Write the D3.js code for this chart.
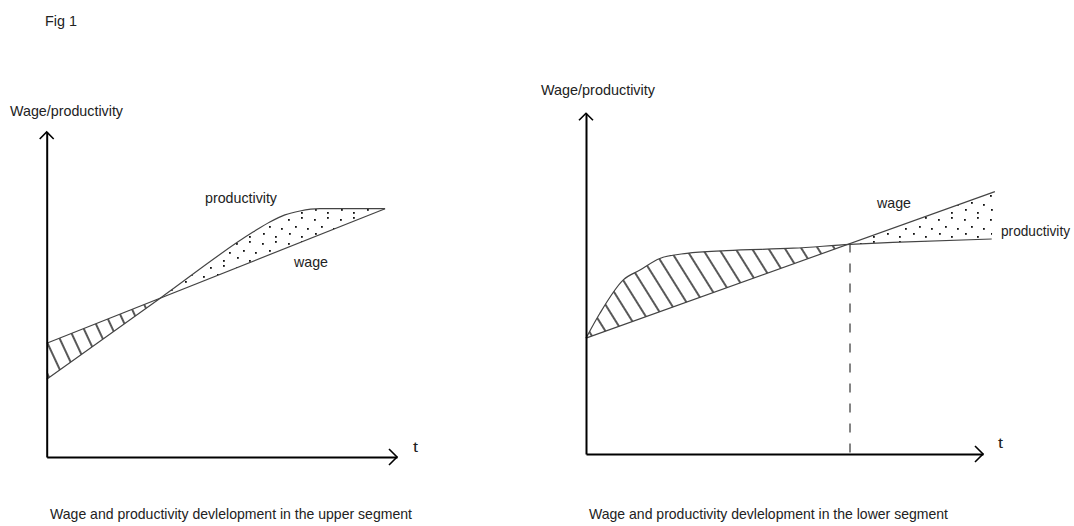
<!DOCTYPE html>
<html>
<head>
<meta charset="utf-8">
<script src="https://cdn.jsdelivr.net/npm/d3@7"></script>
<style>
  body { margin: 0; background: #fff; }
  text { font-family: "Liberation Sans", Arial, sans-serif; fill: #222; }
</style>
</head>
<body>
<div id="fig"></div>
<script>
// values (t and level on a 0..100 scale for each panel)
var upperWageT = [0, 96.6]
var upperWage = [35.0, 76.4]
var upperProdT = [0, 32.3, 58.9, 63.7, 68.0, 72.3, 78.0, 96.6]
var upperProd = [23.9, 48.8, 69.2, 72.3, 74.5, 75.7, 76.4, 76.4]
var upperCross = 32.3

var lowerWageT = [0, 103.0]
var lowerWage = [34.0, 77.0]
var lowerProdT = [0, 3.5, 9.4, 13.6, 18.6, 25.4, 35.4, 52.2, 66.5, 77.3, 102.2]
var lowerProd = [34.0, 41.3, 51.1, 54.0, 57.4, 58.9, 59.7, 60.4, 61.5, 62.1, 63.1]
var lowerCross = 66.5

var svg = d3.select("#fig").append("svg")
  .attr("width", 1074)
  .attr("height", 526)

var defs = svg.append("defs")

// hatch patterns
function hatch(id, angle, gap) {
  var p = defs.append("pattern")
    .attr("id", id)
    .attr("patternUnits", "userSpaceOnUse")
    .attr("width", gap).attr("height", gap)
    .attr("patternTransform", "rotate(" + angle + ")")
  p.append("line")
    .attr("x1", 2).attr("y1", 0).attr("x2", 2).attr("y2", gap)
    .attr("stroke", "#111").attr("stroke-width", 1.4)
}
hatch("hatchL", -25, 13)
hatch("hatchR", -32, 14)

var dots = defs.append("pattern")
  .attr("id", "dots")
  .attr("patternUnits", "userSpaceOnUse")
  .attr("width", 26).attr("height", 24)
var dotPos = [[2, 3], [15, 1], [9, 10], [21, 12], [3, 17], [15, 20]]
dots.selectAll("rect").data(dotPos).enter().append("rect")
  .attr("x", function (d) { return d[0] })
  .attr("y", function (d) { return d[1] })
  .attr("width", 1.8).attr("height", 1.8)
  .attr("fill", "#111")

function zip(ts, vs) {
  return ts.map(function (t, i) { return [t, vs[i]] })
}

function panel(cfg) {
  var x = d3.scaleLinear().domain([0, 100]).range(cfg.xr)
  var y = d3.scaleLinear().domain([0, 100]).range(cfg.yr)
  var g = svg.append("g")

  var wage = zip(cfg.wageT, cfg.wage)
  var prod = zip(cfg.prodT, cfg.prod)

  var wageLine = d3.line().x(function (d) { return x(d[0]) }).y(function (d) { return y(d[1]) })
  var prodLine = d3.line().x(function (d) { return x(d[0]) }).y(function (d) { return y(d[1]) })
    .curve(d3.curveMonotoneX)

  // closed shape: wage forward, productivity back
  var shape = wageLine(wage) + "L" + prodLine(prod.slice().reverse()).slice(1) + "Z"

  var cx = x(cfg.cross)
  defs.append("clipPath").attr("id", cfg.id + "a")
    .append("rect").attr("x", 0).attr("y", 0).attr("width", cx).attr("height", 526)
  defs.append("clipPath").attr("id", cfg.id + "b")
    .append("rect").attr("x", cx).attr("y", 0).attr("width", 1074 - cx).attr("height", 526)

  g.append("path").attr("d", shape)
    .attr("fill", "url(#" + cfg.hatch + ")").attr("fill-rule", "evenodd")
    .attr("clip-path", "url(#" + cfg.id + "a)")
  g.append("path").attr("d", shape)
    .attr("fill", "url(#dots)").attr("fill-rule", "evenodd")
    .attr("clip-path", "url(#" + cfg.id + "b)")

  if (cfg.dashed) {
    var yc = y(d3.interpolateNumber(cfg.wage[0], cfg.wage[1])(cfg.cross / cfg.wageT[1]))
    g.append("line")
      .attr("x1", cx).attr("x2", cx)
      .attr("y1", yc).attr("y2", y(0))
      .attr("stroke", "#444").attr("stroke-width", 1.3)
      .attr("stroke-dasharray", "9,11")
  }

  g.append("path").attr("d", wageLine(wage))
    .attr("fill", "none").attr("stroke", "#444").attr("stroke-width", 1.2)
  g.append("path").attr("d", prodLine(prod))
    .attr("fill", "none").attr("stroke", "#444").attr("stroke-width", 1.2)

  // axes without ticks
  g.append("g").attr("transform", "translate(0," + y(0) + ")")
    .call(d3.axisBottom(x).ticks(0).tickSizeOuter(0))
    .select(".domain").attr("stroke", "#000").attr("stroke-width", 2)
  g.append("g").attr("transform", "translate(" + x(0) + ",0)")
    .call(d3.axisLeft(y).ticks(0).tickSizeOuter(0))
    .select(".domain").attr("stroke", "#000").attr("stroke-width", 2)

  var ax = x(100), ay = y(0), tx = x(0), ty = y(100)
  g.append("path")
    .attr("d", "M" + (ax - 8) + "," + (ay - 8) + "L" + ax + "," + ay + "L" + (ax - 8) + "," + (ay + 8))
    .attr("fill", "none").attr("stroke", "#000").attr("stroke-width", 1.6)
  g.append("path")
    .attr("d", "M" + (tx - 7) + "," + (ty + 7) + "L" + tx + "," + ty + "L" + (tx + 7) + "," + (ty + 7))
    .attr("fill", "none").attr("stroke", "#000").attr("stroke-width", 1.6)

  cfg.labels.forEach(function (l) {
    g.append("text")
      .attr("x", l.x).attr("y", l.y)
      .attr("font-size", l.fs || 15)
      .attr("textLength", l.w)
      .attr("lengthAdjust", "spacingAndGlyphs")
      .text(l.text)
  })
}

svg.append("text").attr("x", 45).attr("y", 26).attr("font-size", 15)
  .attr("textLength", 32).attr("lengthAdjust", "spacingAndGlyphs").text("Fig 1")

panel({
  id: "up", hatch: "hatchL",
  xr: [46.7, 397], yr: [457, 132],
  wageT: upperWageT, wage: upperWage, prodT: upperProdT, prod: upperProd,
  cross: upperCross, dashed: false,
  labels: [
    { text: "Wage/productivity", x: 10, y: 116, w: 113 },
    { text: "productivity", x: 205, y: 203, w: 72 },
    { text: "wage", x: 294, y: 267, w: 34 },
    { text: "t", x: 413, y: 452, w: 5 },
    { text: "Wage and productivity devlelopment in the upper segment", x: 50, y: 519, w: 362 }
  ]
})

panel({
  id: "lo", hatch: "hatchR",
  xr: [586, 983], yr: [454, 113.3],
  wageT: lowerWageT, wage: lowerWage, prodT: lowerProdT, prod: lowerProd,
  cross: lowerCross, dashed: true,
  labels: [
    { text: "Wage/productivity", x: 541, y: 95, w: 114 },
    { text: "wage", x: 877, y: 208, w: 34 },
    { text: "productivity", x: 1001, y: 236, w: 69, fs: 14 },
    { text: "t", x: 998, y: 448, w: 5 },
    { text: "Wage and productivity devlelopment in the lower segment", x: 589, y: 519, w: 359 }
  ]
})
</script>
</body>
</html>
